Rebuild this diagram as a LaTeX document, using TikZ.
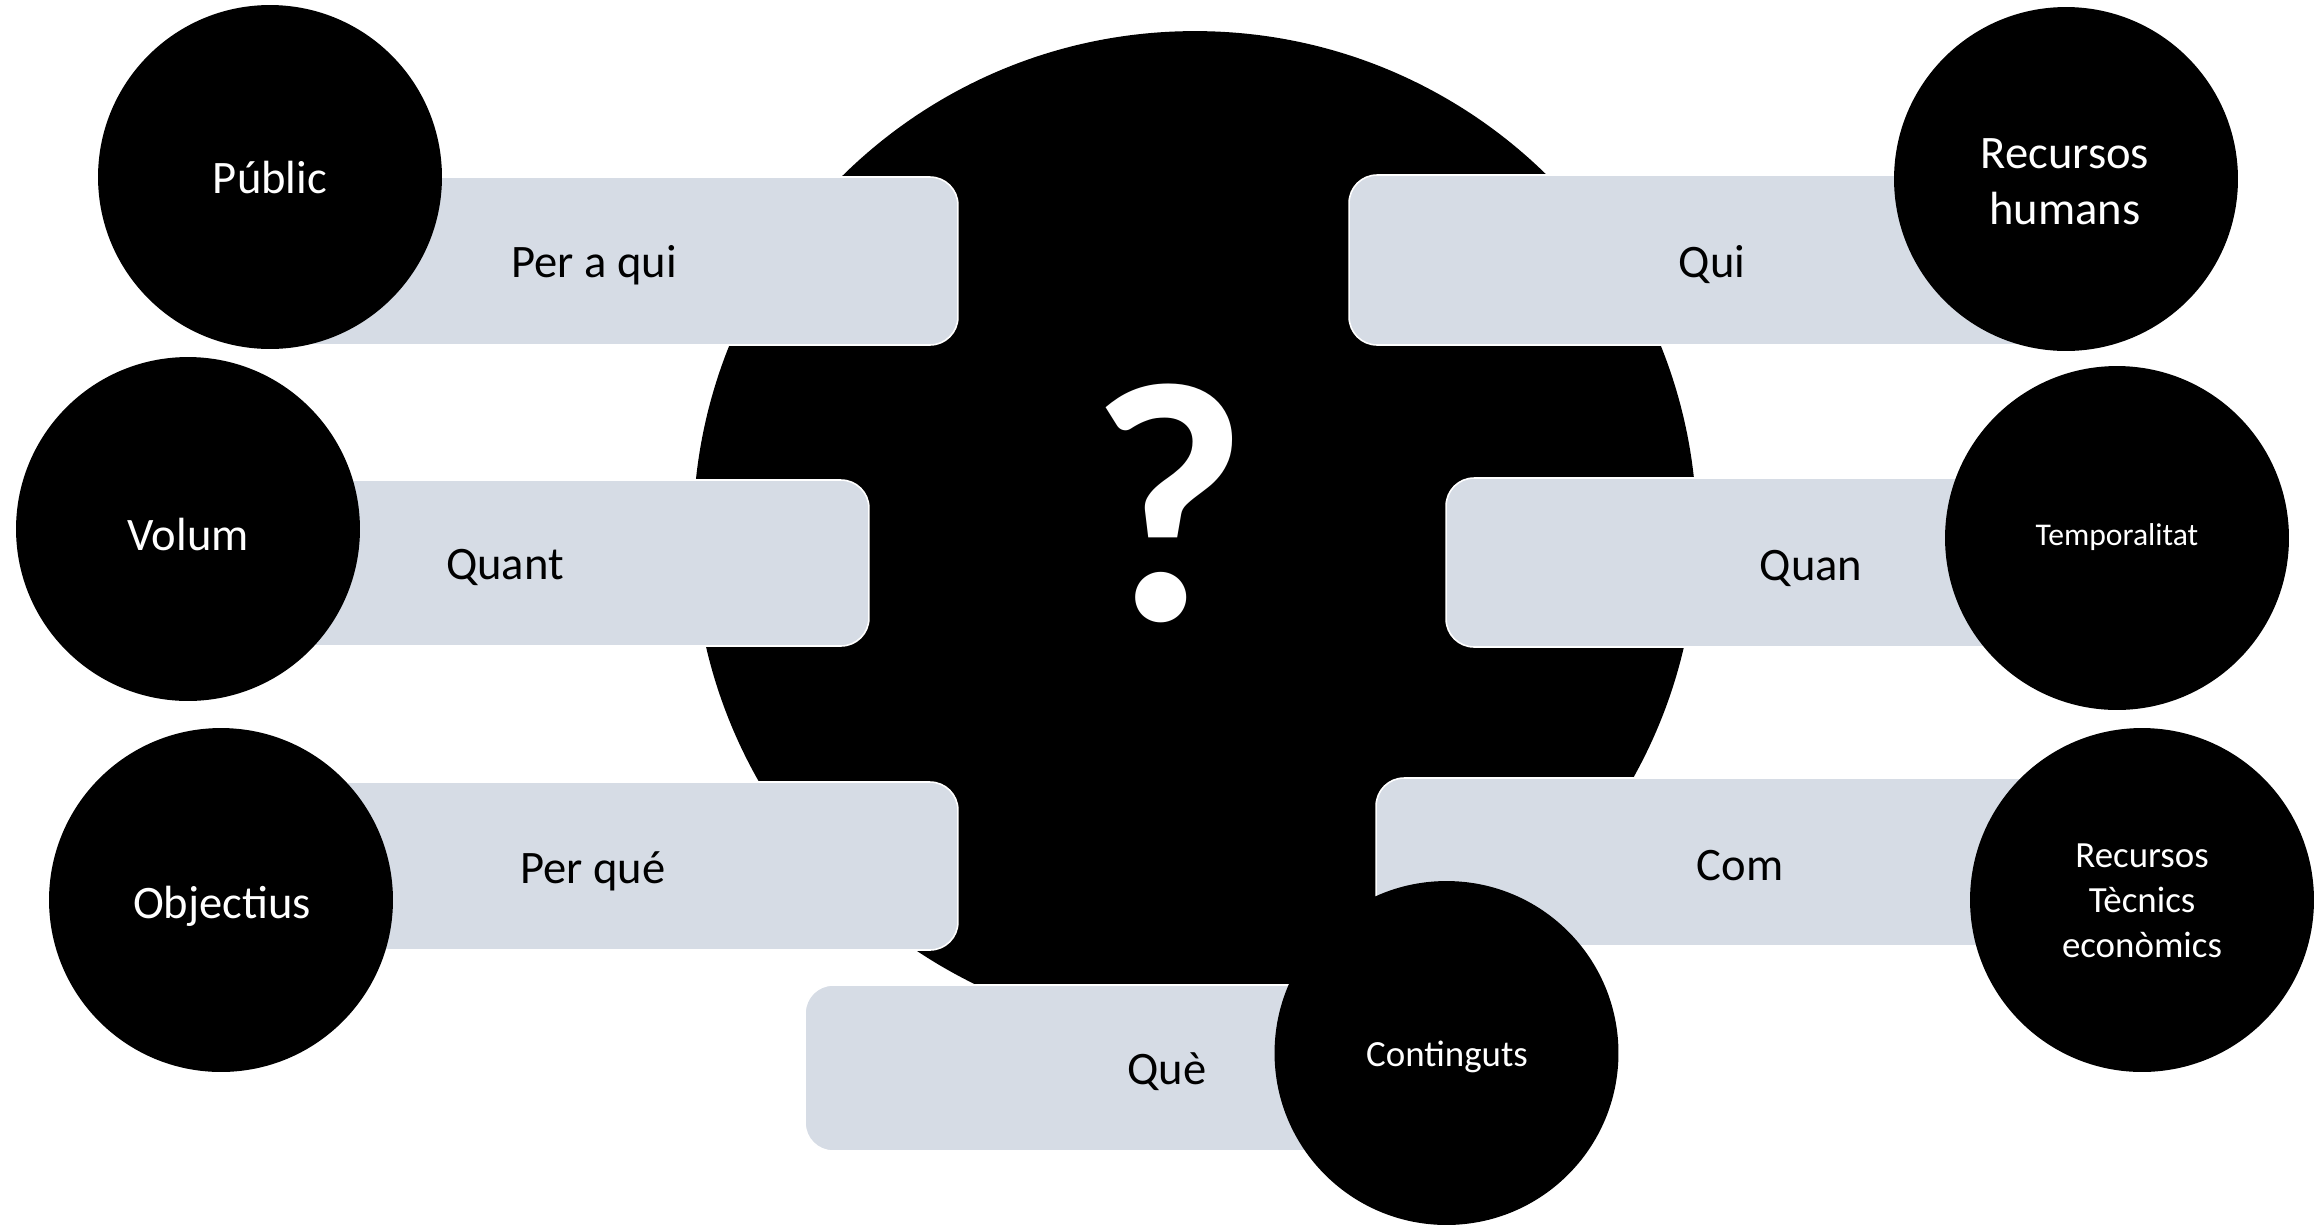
\documentclass[tikz,border=0pt]{standalone}
\usepackage{fontspec}
\setmainfont{Carlito}
\definecolor{boxfill}{HTML}{D6DCE5}
\begin{document}
\begin{tikzpicture}[x=0.02cm, y=-0.02cm,
  qbox/.style={draw=white, line width=0.9pt, fill=boxfill, rounded corners=0.56cm, inner sep=0, outer sep=0},
  blob/.style={circle, fill=black, inner sep=0, outer sep=0, minimum size=6.88cm},
  hub/.style={circle, fill=black, inner sep=0, outer sep=0, minimum size=20.08cm},
  bigtxt/.style={font=\fontsize{26.5}{32}\selectfont, inner sep=0, anchor=base},
  midtxt/.style={font=\fontsize{21}{25.6}\selectfont, inner sep=0, align=center},
  smalltxt/.style={font=\fontsize{18}{22}\selectfont, inner sep=0, anchor=base},
  intxt/.style={text=white},
  boxtxt/.style={text=black}
]
\useasboundingbox (0,0) rectangle (2316,1228);

% central shape
\node[hub] (hub) at (1195,533) {};
\node[font=\fontsize{195}{230}\bfseries\selectfont, text=white, inner sep=0, anchor=base] (qm) at (1169,620) {?};

% boxes
\node[qbox, minimum width=13.76cm, minimum height=3.36cm] (b1) at (614,261) {};
\node[qbox, minimum width=13.62cm, minimum height=3.32cm] (b2) at (528.5,563) {};
\node[qbox, minimum width=14.74cm, minimum height=3.36cm] (b3) at (589.5,866) {};
\node[qbox, minimum width=12.82cm, minimum height=3.32cm] (b4) at (1125.5,1068) {};
\node[qbox, minimum width=14.34cm, minimum height=3.40cm] (b5) at (1707.5,260) {};
\node[qbox, minimum width=13.42cm, minimum height=3.38cm] (b6) at (1781.5,562.5) {};
\node[qbox, minimum width=15.32cm, minimum height=3.36cm] (b7) at (1759,862) {};

% circles
\node[blob] (c1) at (270,177) {};
\node[blob] (c2) at (188,529) {};
\node[blob] (c3) at (221,900) {};
\node[blob] (c4) at (1446.5,1053) {};
\node[blob] (c5) at (2066,179) {};
\node[blob] (c6) at (2117,538) {};
\node[blob] (c7) at (2142,900) {};

% texts in boxes
\node[bigtxt, boxtxt] (t2) at (594,277) {Per a qui};
\node[bigtxt, boxtxt] (t4) at (505,579) {Quant};
\node[bigtxt, boxtxt] (t6) at (593,883) {Per qué};
\node[bigtxt, boxtxt] (t7) at (1167,1084) {Què};
\node[bigtxt, boxtxt] (t9) at (1712,277) {Qui};
\node[bigtxt, boxtxt] (t11) at (1811,580) {Quan};
\node[bigtxt, boxtxt] (t13) at (1740,880) {Com};

% texts in circles
\node[bigtxt, intxt] (t1) at (270,193) {Públic};
\node[bigtxt, intxt] (t3) at (188,550) {Volum};
\node[bigtxt, intxt] (t5) at (222,918) {Objectius};
\node[midtxt, intxt, anchor=base] (t8) at (1447,1066) {Continguts};
\node[font=\fontsize{26.5}{31.9}\selectfont, inner sep=0, align=center, intxt] (t10) at (2065,182) {Recursos\\humans};
\node[smalltxt, intxt] (t12) at (2117,545.5) {Temporalitat};
\node[midtxt, intxt] (t14) at (2142,901) {Recursos\\Tècnics\\econòmics};
\end{tikzpicture}
\end{document}
